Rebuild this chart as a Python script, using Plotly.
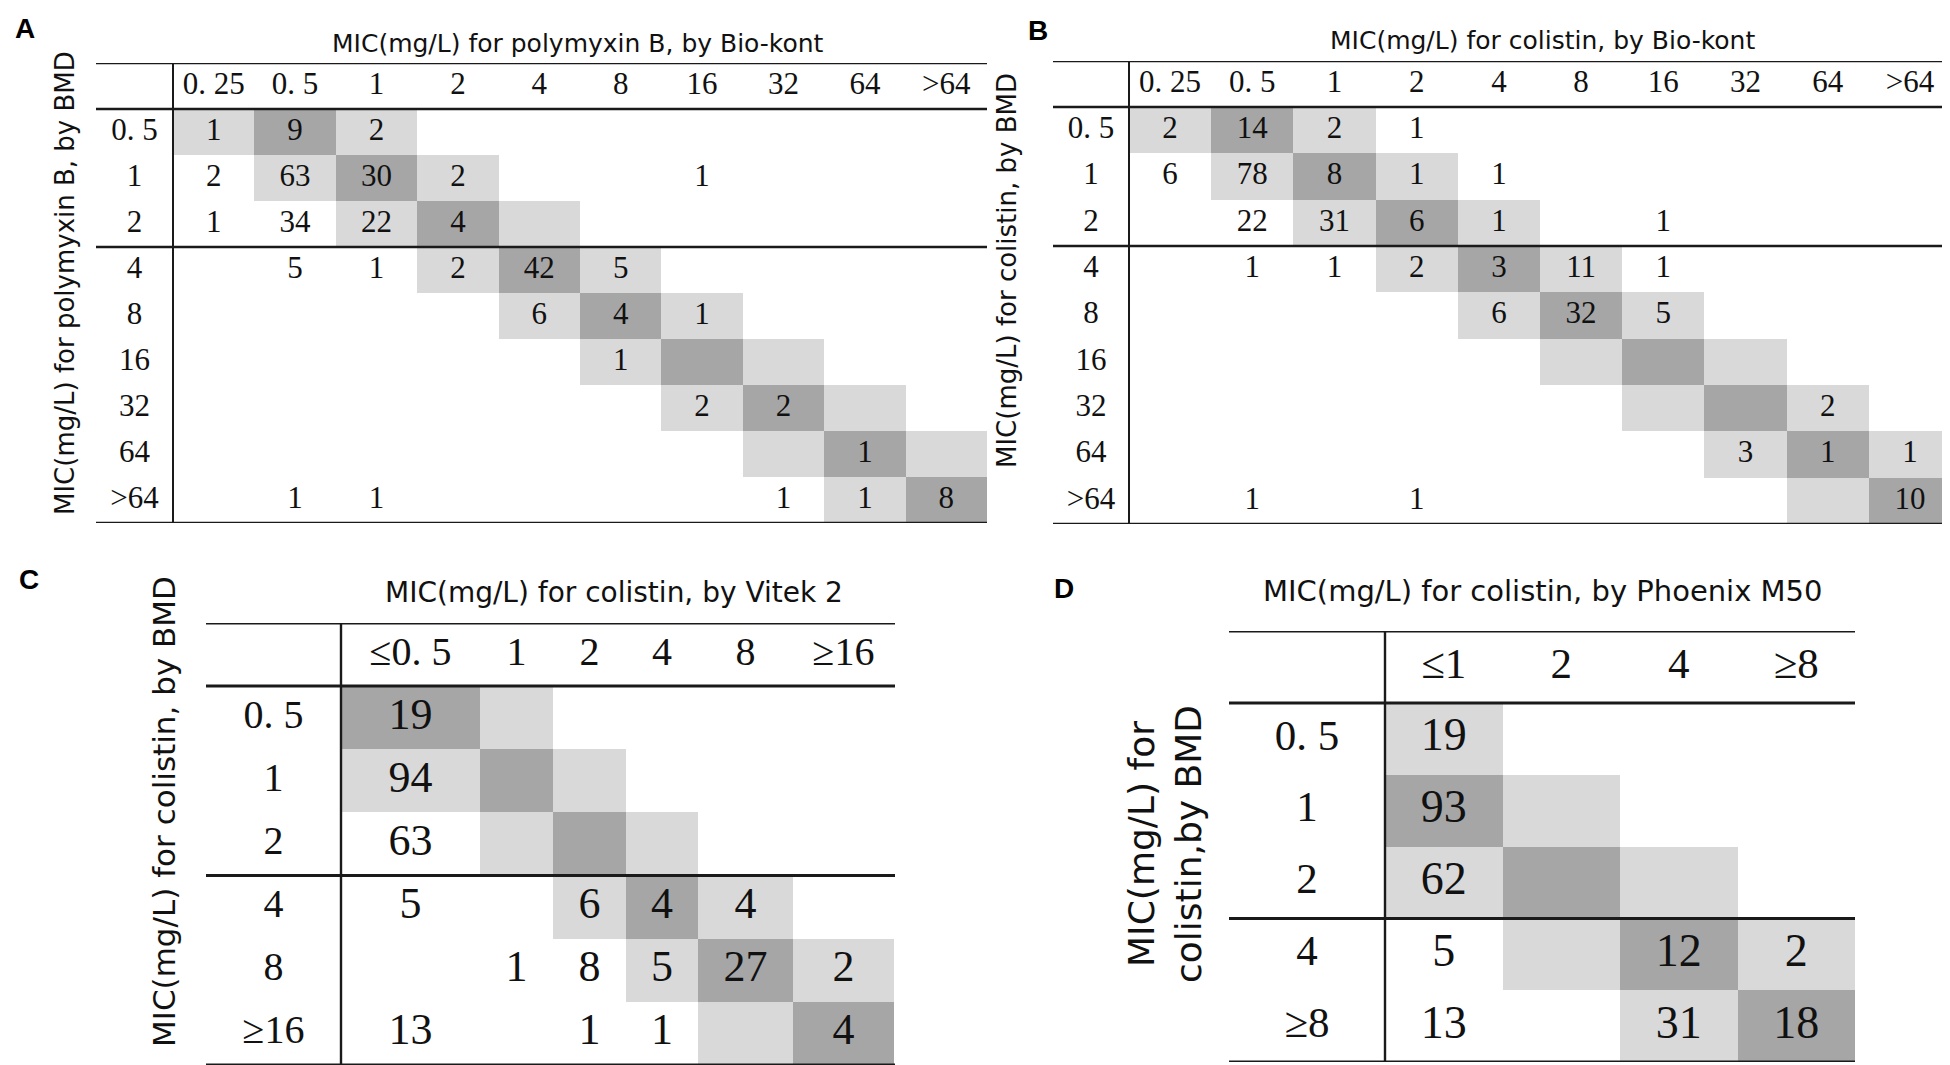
"""
Tabelas de concordância de MIC (BMD vs. Bio-kont / Vitek 2 / Phoenix M50) em Plotly
"""
import plotly.graph_objects as go

W, H = 1950, 1065
_ = None

# Painel A: polimixina B, Bio-kont x BMD
a_cols = ["0. 25", "0. 5", "1", "2", "4", "8", "16", "32", "64", ">64"]
a_rows = ["0. 5", "1", "2", "4", "8", "16", "32", "64", ">64"]
a_counts = [
    [1, 9, 2, _, _, _, _, _, _, _],
    [2, 63, 30, 2, _, _, 1, _, _, _],
    [1, 34, 22, 4, _, _, _, _, _, _],
    [_, 5, 1, 2, 42, 5, _, _, _, _],
    [_, _, _, _, 6, 4, 1, _, _, _],
    [_, _, _, _, _, 1, _, _, _, _],
    [_, _, _, _, _, _, 2, 2, _, _],
    [_, _, _, _, _, _, _, _, 1, _],
    [_, 1, 1, _, _, _, _, 1, 1, 8],
]

# Painel B: colistina, Bio-kont x BMD
b_cols = ["0. 25", "0. 5", "1", "2", "4", "8", "16", "32", "64", ">64"]
b_rows = ["0. 5", "1", "2", "4", "8", "16", "32", "64", ">64"]
b_counts = [
    [2, 14, 2, 1, _, _, _, _, _, _],
    [6, 78, 8, 1, 1, _, _, _, _, _],
    [_, 22, 31, 6, 1, _, 1, _, _, _],
    [_, 1, 1, 2, 3, 11, 1, _, _, _],
    [_, _, _, _, 6, 32, 5, _, _, _],
    [_, _, _, _, _, _, _, _, _, _],
    [_, _, _, _, _, _, _, _, 2, _],
    [_, _, _, _, _, _, _, 3, 1, 1],
    [_, 1, _, 1, _, _, _, _, _, 10],
]

# Painel C: colistina, Vitek 2 x BMD
c_cols = ["≤0. 5", "1", "2", "4", "8", "≥16"]
c_rows = ["0. 5", "1", "2", "4", "8", "≥16"]
c_counts = [
    [19, _, _, _, _, _],
    [94, _, _, _, _, _],
    [63, _, _, _, _, _],
    [5, _, 6, 4, 4, _],
    [_, 1, 8, 5, 27, 2],
    [13, _, 1, 1, _, 4],
]

# Painel D: colistina, Phoenix M50 x BMD
d_cols = ["≤1", "2", "4", "≥8"]
d_rows = ["0. 5", "1", "2", "4", "≥8"]
d_counts = [
    [19, _, _, _],
    [93, _, _, _],
    [62, _, _, _],
    [5, _, 12, 2],
    [13, _, 31, 18],
]

LIGHT = "#d9d9d9"
DARK = "#a6a6a6"
INK = "#111111"
SERIF = "Liberation Serif, Times New Roman, serif"
SANS = "DejaVu Sans, Arial, sans-serif"


def add_panel(fig, k, rows, cols, counts, diag_shift, geo):
    """Desenha uma tabela: células sombreadas (heatmap), números e linhas"""
    left, top, right, bottom = geo["box"]
    vline, hline = geo["vline"], geo["hline"]
    label_w = vline - left
    head_h = hline - top
    widths = geo.get("col_w") or [(right - vline) / len(cols)] * len(cols)

    xe = [label_w]
    for w in widths:
        xe.append(xe[-1] + w)
    rh = (bottom - hline) / len(rows)
    ye = [head_h + i * rh for i in range(len(rows) + 1)]
    xc = [(xe[j] + xe[j + 1]) / 2 for j in range(len(cols))]
    yc = [(ye[i] + ye[i + 1]) / 2 for i in range(len(rows))]

    # 2 = concordância exata, 1 = +/- uma diluição
    shade = []
    for i in range(len(rows)):
        line = []
        for j in range(len(cols)):
            d = j - i - diag_shift
            line.append(2 if d == 0 else (1 if abs(d) == 1 else 0))
        shade.append(line)

    xa = "x" if k == 1 else f"x{k}"
    ya = "y" if k == 1 else f"y{k}"

    fig.add_trace(go.Heatmap(
        x=xe, y=ye, z=shade, xaxis=xa, yaxis=ya,
        zmin=0, zmax=2, showscale=False, hoverinfo="skip",
        colorscale=[[0, "#ffffff"], [0.5, LIGHT], [1, DARK]],
    ))

    tx, ty, tt = [], [], []
    for i, row in enumerate(counts):
        for j, v in enumerate(row):
            if v is not None:
                tx.append(xc[j])
                ty.append(yc[i])
                tt.append(str(v))
    fig.add_trace(go.Scatter(
        x=tx, y=ty, text=tt, mode="text", xaxis=xa, yaxis=ya,
        textfont=dict(family=SERIF, size=geo["fs_body"], color=INK),
        hoverinfo="skip", showlegend=False,
    ))
    # cabeçalho (colunas) e rótulos das linhas
    fig.add_trace(go.Scatter(
        x=xc + [label_w / 2] * len(rows),
        y=[head_h / 2] * len(cols) + yc,
        text=cols + rows, mode="text", xaxis=xa, yaxis=ya,
        textfont=dict(family=SERIF, size=geo["fs_head"], color=INK),
        hoverinfo="skip", showlegend=False,
    ))

    fig.update_layout({
        ("xaxis" if k == 1 else f"xaxis{k}"): dict(
            domain=[left / W, right / W], range=[0, right - left],
            visible=False, fixedrange=True, anchor=ya),
        ("yaxis" if k == 1 else f"yaxis{k}"): dict(
            domain=[1 - bottom / H, 1 - top / H], range=[bottom - top, 0],
            visible=False, fixedrange=True, anchor=xa),
    })

    # linhas da tabela
    split = rows.index("2") + 1
    lw = geo["lw"]
    for yy in [0, head_h, ye[split], ye[-1]]:
        fig.add_shape(type="line", xref=xa, yref=ya, x0=0, x1=right - left,
                      y0=yy, y1=yy, line=dict(color="#1a1a1a", width=lw))
    fig.add_shape(type="line", xref=xa, yref=ya, x0=label_w, x1=label_w,
                  y0=0, y1=ye[-1], line=dict(color="#1a1a1a", width=lw * 0.8))

    # título, título vertical e letra do painel
    common = dict(xref="paper", yref="paper", showarrow=False,
                  xanchor="center", yanchor="middle")
    tx_, ty_, ts = geo["title"]
    fig.add_annotation(x=tx_ / W, y=1 - ty_ / H, text=geo["title_text"],
                       font=dict(family=SANS, size=ts, color=INK), **common)
    vx, vy, vs = geo["ytitle"]
    fig.add_annotation(x=vx / W, y=1 - vy / H, text=geo["ytitle_text"],
                       textangle=-90,
                       font=dict(family=SANS, size=vs, color=INK), **common)
    lx, ly = geo["letter_pos"]
    fig.add_annotation(x=lx / W, y=1 - ly / H, text=f"<b>{geo['letter']}</b>",
                       font=dict(family="Liberation Sans, Arial", size=28,
                                 color="#000"), **common)


fig = go.Figure()

add_panel(fig, 1, a_rows, a_cols, a_counts, 1, dict(
    box=(88, 55, 979, 515), vline=165, hline=101, lw=2.5,
    fs_body=31, fs_head=31,
    title=(570, 35, 25), title_text="MIC(mg/L) for polymyxin B, by Bio-kont",
    ytitle=(57, 275, 26), ytitle_text="MIC(mg/L) for polymyxin B, by BMD",
    letter="A", letter_pos=(17, 21)))

add_panel(fig, 2, b_rows, b_cols, b_counts, 1, dict(
    box=(1045, 53, 1943, 516), vline=1121, hline=99, lw=2.5,
    fs_body=31, fs_head=31,
    title=(1534, 33, 25), title_text="MIC(mg/L) for colistin, by Bio-kont",
    ytitle=(999, 263, 26), ytitle_text="MIC(mg/L) for colistin, by BMD",
    letter="B", letter_pos=(1030, 22)))

add_panel(fig, 3, c_rows, c_cols, c_counts, 0, dict(
    box=(198, 615, 887, 1057), vline=333, hline=678, lw=3,
    col_w=[139, 73, 73, 72, 95, 101],
    fs_body=44, fs_head=40,
    title=(606, 584, 28), title_text="MIC(mg/L) for colistin, by Vitek 2",
    ytitle=(156, 804, 31), ytitle_text="MIC(mg/L) for colistin, by BMD",
    letter="C", letter_pos=(21, 571)))

add_panel(fig, 4, d_rows, d_cols, d_counts, -1, dict(
    box=(1221, 623, 1847, 1054), vline=1377, hline=695, lw=3,
    fs_body=46, fs_head=43,
    title=(1534, 583, 29), title_text="MIC(mg/L) for colistin, by Phoenix M50",
    ytitle=(1157, 836, 36), ytitle_text="MIC(mg/L) for<br>colistin,by BMD",
    letter="D", letter_pos=(1056, 580)))

fig.update_layout(
    width=W, height=H,
    margin=dict(l=0, r=0, t=0, b=0),
    paper_bgcolor="white", plot_bgcolor="white",
    showlegend=False,
)

fig.write_html("out.html")
